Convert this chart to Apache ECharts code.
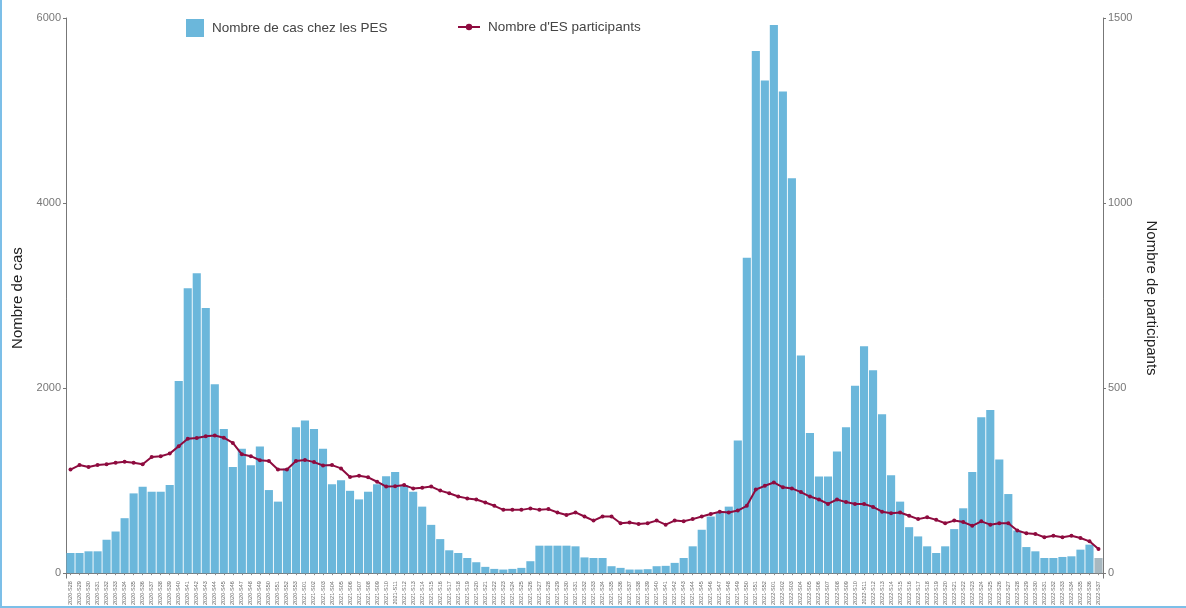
<!DOCTYPE html>
<html>
<head>
<meta charset="utf-8">
<script src="https://cdn.jsdelivr.net/npm/echarts@6/dist/echarts.min.js"></script>
<style>
  html, body { margin: 0; padding: 0; background: #fff; }
  #frame { position: absolute; left: 0; top: 0; width: 1186px; height: 608px; box-sizing: border-box; border-left: 2px solid #7cbfe8; border-bottom: 2px solid #7cbfe8; }
  #chart { position: absolute; left: 0; top: 0; width: 1186px; height: 608px; }
</style>
</head>
<body>
<div id="frame"></div>
<div id="chart"></div>
<script>
const weeks = [
  "2020-S28","2020-S29","2020-S30","2020-S31","2020-S32","2020-S33","2020-S34","2020-S35","2020-S36","2020-S37",
  "2020-S38","2020-S39","2020-S40","2020-S41","2020-S42","2020-S43","2020-S44","2020-S45","2020-S46","2020-S47",
  "2020-S48","2020-S49","2020-S50","2020-S51","2020-S52","2020-S53",
  "2021-S01","2021-S02","2021-S03","2021-S04","2021-S05","2021-S06","2021-S07","2021-S08","2021-S09","2021-S10",
  "2021-S11","2021-S12","2021-S13","2021-S14","2021-S15","2021-S16","2021-S17","2021-S18","2021-S19","2021-S20",
  "2021-S21","2021-S22","2021-S23","2021-S24","2021-S25","2021-S26","2021-S27","2021-S28","2021-S29","2021-S30",
  "2021-S31","2021-S32","2021-S33","2021-S34","2021-S35","2021-S36","2021-S37","2021-S38","2021-S39","2021-S40",
  "2021-S41","2021-S42","2021-S43","2021-S44","2021-S45","2021-S46","2021-S47","2021-S48","2021-S49","2021-S50",
  "2021-S51","2021-S52",
  "2022-S01","2022-S02","2022-S03","2022-S04","2022-S05","2022-S06","2022-S07","2022-S08","2022-S09","2022-S10",
  "2022-S11","2022-S12","2022-S13","2022-S14","2022-S15","2022-S16","2022-S17","2022-S18","2022-S19","2022-S20",
  "2022-S21","2022-S22","2022-S23","2022-S24","2022-S25","2022-S26","2022-S27","2022-S28","2022-S29","2022-S30",
  "2022-S31","2022-S32","2022-S33","2022-S34","2022-S35","2022-S36","2022-S37"
];

const casPES = [
  218, 218, 236, 236, 361, 450, 594, 862, 933, 880,
  880, 952, 2078, 3080, 3240, 2865, 2042, 1559, 1148, 1345,
  1166, 1370, 898, 773, 1130, 1577, 1649, 1559, 1345, 962,
  1005, 890, 797, 880, 962, 1048, 1094, 952, 880, 719,
  522, 368, 247, 218, 164, 118, 68, 46, 39, 46,
  57, 129, 297, 297, 297, 297, 290, 170, 164, 164,
  75, 57, 39, 39, 43, 75, 79, 111, 164, 290,
  469, 612, 660, 719, 1435, 3410, 5644, 5325, 5923, 5205,
  4268, 2353, 1516, 1045, 1045, 1316, 1576, 2026, 2453, 2194,
  1718, 1059, 773, 497, 397, 290, 218, 290, 476, 701,
  1094, 1685, 1763, 1227, 855, 461, 282, 236, 164, 164,
  175, 182, 254, 308, 164
];

const participantsES = [
  280, 292, 287, 292, 294, 298, 301, 298, 294, 314,
  316, 323, 343, 363, 365, 370, 372, 366, 352, 321,
  316, 305, 303, 280, 280, 303, 306, 300, 291, 292,
  283, 260, 263, 259, 247, 234, 235, 238, 229, 231,
  234, 223, 216, 207, 202, 199, 191, 182, 171, 171,
  171, 175, 171, 173, 164, 157, 164, 153, 142, 153,
  153, 135, 137, 133, 135, 142, 131, 142, 140, 146,
  153, 160, 166, 164, 169, 182, 226, 236, 245, 232,
  229, 219, 207, 199, 187, 199, 192, 187, 187, 179,
  166, 162, 164, 155, 146, 151, 144, 135, 142, 138,
  128, 140, 131, 135, 135, 115, 108, 106, 97, 101,
  97, 101, 95, 86, 65
];

const leftTicks = [0, 2000, 4000, 6000];
const rightTicks = [0, 500, 1000, 1500];

const FONT = "'Liberation Sans', Arial, sans-serif";
const BLUE = '#6bb7db';
const GREY = '#a8b8c0';
const LINE = '#8e0b3f';
const lastIdx = casPES.length - 1;

const chart = echarts.init(document.getElementById('chart'), null, { renderer: 'canvas' });
chart.setOption({
  animation: false,
  color: [BLUE, LINE],
  textStyle: { fontFamily: FONT },
  grid: { left: 66, right: 83, top: 18, bottom: 26, containLabel: false },
  legend: [
    {
      data: [{ name: 'Nombre de cas chez les PES', icon: 'rect', itemStyle: { color: BLUE } }],
      left: 186, top: 19, padding: 0,
      itemWidth: 18, itemHeight: 18, itemGap: 10,
      textStyle: { fontSize: 13.5, color: '#444', fontFamily: FONT, padding: [0, 0, 0, 3] }
    },
    {
      data: [{ name: "Nombre d'ES participants", itemStyle: { color: LINE } }],
      left: 457, top: 20, padding: 0,
      itemWidth: 22, itemHeight: 8,
      textStyle: { fontSize: 13.5, color: '#444', fontFamily: FONT, padding: [0, 0, 0, 3] }
    }
  ],
  xAxis: {
    type: 'category',
    data: weeks,
    boundaryGap: true,
    axisLine: { show: true, lineStyle: { color: '#777', width: 1 } },
    axisTick: { show: true, length: 2, alignWithLabel: true, lineStyle: { color: '#888' } },
    axisLabel: { interval: 0, rotate: 90, fontSize: 5.5, color: '#666', margin: 3, fontFamily: FONT }
  },
  yAxis: [
    {
      type: 'value',
      min: -54, max: 6000,
      name: 'Nombre de cas',
      nameLocation: 'middle',
      nameGap: 40,
      nameRotate: 90,
      nameTextStyle: { fontSize: 15, color: '#222', fontFamily: FONT },
      splitLine: { show: false },
      axisLine: { show: true, lineStyle: { color: '#777', width: 1 } },
      axisTick: { show: true, length: 3, customValues: leftTicks, lineStyle: { color: '#777' } },
      axisLabel: { customValues: leftTicks, formatter: function (v) { return String(v); }, fontSize: 11, color: '#777', margin: 5, fontFamily: FONT }
    },
    {
      type: 'value',
      min: -13.5, max: 1500,
      position: 'right',
      name: 'Nombre de participants',
      nameLocation: 'middle',
      nameGap: 29,
      nameRotate: -90,
      nameTextStyle: { fontSize: 15, color: '#222', fontFamily: FONT },
      splitLine: { show: false },
      axisLine: { show: true, lineStyle: { color: '#777', width: 1 } },
      axisTick: { show: true, length: 3, customValues: rightTicks, lineStyle: { color: '#777' } },
      axisLabel: { customValues: rightTicks, formatter: function (v) { return String(v); }, fontSize: 11, color: '#777', margin: 5, fontFamily: FONT }
    }
  ],
  series: [
    {
      name: 'Nombre de cas chez les PES',
      type: 'bar',
      yAxisIndex: 0,
      data: casPES,
      barCategoryGap: '10%',
      itemStyle: {
        color: function (p) { return p.dataIndex === lastIdx ? GREY : BLUE; }
      }
    },
    {
      name: "Nombre d'ES participants",
      type: 'line',
      yAxisIndex: 1,
      data: participantsES,
      symbol: 'circle',
      symbolSize: 4,
      showSymbol: true,
      lineStyle: { color: LINE, width: 2 },
      itemStyle: { color: LINE }
    }
  ]
});
</script>
</body>
</html>
